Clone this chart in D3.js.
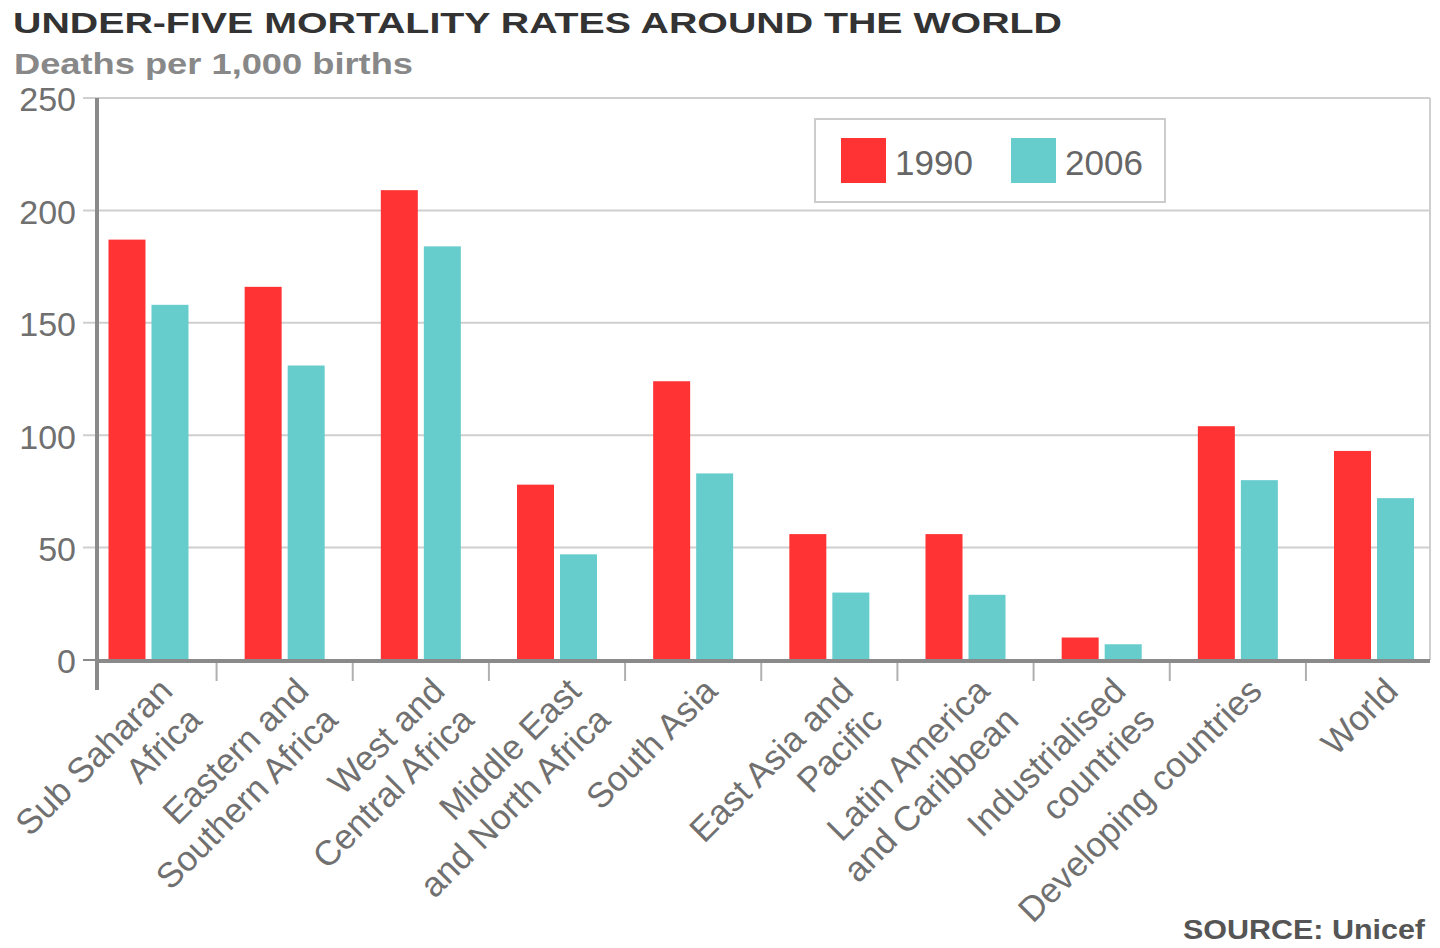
<!DOCTYPE html>
<html>
<head>
<meta charset="utf-8">
<script src="https://cdn.jsdelivr.net/npm/d3@7"></script>
<style>
  body { margin: 0; background: #fff; }
  text { font-family: "Liberation Sans", Arial, sans-serif; }
</style>
</head>
<body>
<div></div>
<script>
var categories = ["Sub Saharan Africa", "Eastern and Southern Africa", "West and Central Africa",
    "Middle East and North Africa", "South Asia", "East Asia and Pacific",
    "Latin America and Caribbean", "Industrialised countries", "Developing countries", "World"];
var labelLines = [["Sub Saharan", "Africa"], ["Eastern and", "Southern Africa"], ["West and", "Central Africa"],
    ["Middle East", "and North Africa"], ["South Asia"], ["East Asia and", "Pacific"],
    ["Latin America", "and Caribbean"], ["Industrialised", "countries"], ["Developing countries"], ["World"]];
var series = ["1990", "2006"];
var values1990 = [187, 166, 209, 78, 124, 56, 56, 10, 104, 93];
var values2006 = [158, 131, 184, 47, 83, 30, 29, 7, 80, 72];
var yTicks = [0, 50, 100, 150, 200, 250];
var colors = ["#ff3333", "#66cccc"];

var width = 1440, height = 948;
var plotLeft = 97, plotRight = 1430, plotTop = 98, plotBottom = 660;

var svg = d3.select("div").append("svg")
    .attr("width", width)
    .attr("height", height);

var y = d3.scaleLinear().domain([0, 250]).range([plotBottom, plotTop]);

// bands are a bit wider than the plot, the original spreads them that way
var x = d3.scaleBand().domain(categories).range([80.4, 1442.1]).paddingInner(0).paddingOuter(0);
var bw = x.bandwidth();
var xs = d3.scaleBand().domain(series).range([bw / 2 - 40, bw / 2 + 40]).paddingInner(0.14);

var rows = categories.map(function (c, i) {
    return { cat: c, vals: [values1990[i], values2006[i]] };
});

// title
svg.append("text")
    .attr("x", 13).attr("y", 33)
    .attr("font-size", 30).attr("font-weight", "bold")
    .attr("fill", "#333")
    .attr("textLength", 1049).attr("lengthAdjust", "spacingAndGlyphs")
    .text("UNDER-FIVE MORTALITY RATES AROUND THE WORLD");

svg.append("text")
    .attr("x", 14).attr("y", 74)
    .attr("font-size", 30).attr("font-weight", "bold")
    .attr("fill", "#888")
    .attr("textLength", 399).attr("lengthAdjust", "spacingAndGlyphs")
    .text("Deaths per 1,000 births");

// grid
svg.append("g")
    .selectAll("line")
    .data(yTicks.filter(function (d) { return d > 0; }))
    .enter().append("line")
    .attr("x1", 83).attr("x2", plotRight)
    .attr("y1", function (d) { return y(d); })
    .attr("y2", function (d) { return y(d); })
    .attr("stroke", "#cfcfcf").attr("stroke-width", 2);

svg.append("line")
    .attr("x1", plotRight).attr("x2", plotRight)
    .attr("y1", y(250)).attr("y2", y(0))
    .attr("stroke", "#cfcfcf").attr("stroke-width", 2);

// y axis labels
var yAxis = svg.append("g")
    .attr("transform", "translate(" + plotLeft + ",0)")
    .call(d3.axisLeft(y).tickValues(yTicks).tickSize(0).tickPadding(21));
yAxis.select(".domain").remove();
yAxis.selectAll("text")
    .attr("font-size", 34)
    .attr("dy", "0.38em")
    .attr("font-family", "Liberation Sans, Arial, sans-serif")
    .attr("fill", "#707070");

// bars
var groups = svg.append("g")
    .selectAll("g")
    .data(rows)
    .enter().append("g")
    .attr("transform", function (d) { return "translate(" + x(d.cat) + ",0)"; });

groups.selectAll("rect")
    .data(function (d) { return d.vals; })
    .enter().append("rect")
    .attr("x", function (d, i) { return xs(series[i]); })
    .attr("width", xs.bandwidth())
    .attr("y", function (d) { return y(d); })
    .attr("height", function (d) { return y(0) - y(d); })
    .attr("fill", function (d, i) { return colors[i]; });

// axes lines
svg.append("line")
    .attr("x1", 83).attr("x2", plotLeft)
    .attr("y1", y(0)).attr("y2", y(0))
    .attr("stroke", "#8a8a8a").attr("stroke-width", 2);
svg.append("line")
    .attr("x1", plotLeft).attr("x2", plotRight)
    .attr("y1", y(0) + 1).attr("y2", y(0) + 1)
    .attr("stroke", "#8a8a8a").attr("stroke-width", 4);
svg.append("line")
    .attr("x1", plotLeft).attr("x2", plotLeft)
    .attr("y1", plotTop).attr("y2", 690)
    .attr("stroke", "#8a8a8a").attr("stroke-width", 4);

// category separators
svg.append("g")
    .selectAll("line")
    .data(categories.slice(1))
    .enter().append("line")
    .attr("x1", function (d) { return x(d); })
    .attr("x2", function (d) { return x(d); })
    .attr("y1", 663).attr("y2", 681)
    .attr("stroke", "#b0b0b0").attr("stroke-width", 2);

// rotated category labels
var labels = svg.append("g")
    .selectAll("text")
    .data(categories)
    .enter().append("text")
    .attr("transform", function (d) {
        return "translate(" + (x(d) + bw / 2 + 26) + ",693) rotate(-45)";
    })
    .attr("text-anchor", "end")
    .attr("font-size", 35)
    .attr("fill", "#707070");

labels.selectAll("tspan")
    .data(function (d, i) { return labelLines[i]; })
    .enter().append("tspan")
    .attr("x", 0)
    .attr("dy", function (d, i) { return i === 0 ? 0 : "1.17em"; })
    .text(function (d) { return d; });

// legend
var legend = svg.append("g");
legend.append("rect")
    .attr("x", 815).attr("y", 119)
    .attr("width", 350).attr("height", 83)
    .attr("fill", "#fff")
    .attr("stroke", "#cccccc").attr("stroke-width", 2);

var items = legend.selectAll("g.item")
    .data(series)
    .enter().append("g")
    .attr("class", "item")
    .attr("transform", function (d, i) { return "translate(" + (841 + i * 170) + ",138)"; });
items.append("rect")
    .attr("width", 45).attr("height", 45)
    .attr("fill", function (d, i) { return colors[i]; });
items.append("text")
    .attr("x", 54).attr("y", 37)
    .attr("font-size", 35)
    .attr("fill", "#666")
    .text(function (d) { return d; });

// source
svg.append("text")
    .attr("x", 1183).attr("y", 939)
    .attr("font-size", 28).attr("font-weight", "bold")
    .attr("fill", "#555")
    .attr("textLength", 242).attr("lengthAdjust", "spacingAndGlyphs")
    .text("SOURCE: Unicef");
</script>
</body>
</html>
